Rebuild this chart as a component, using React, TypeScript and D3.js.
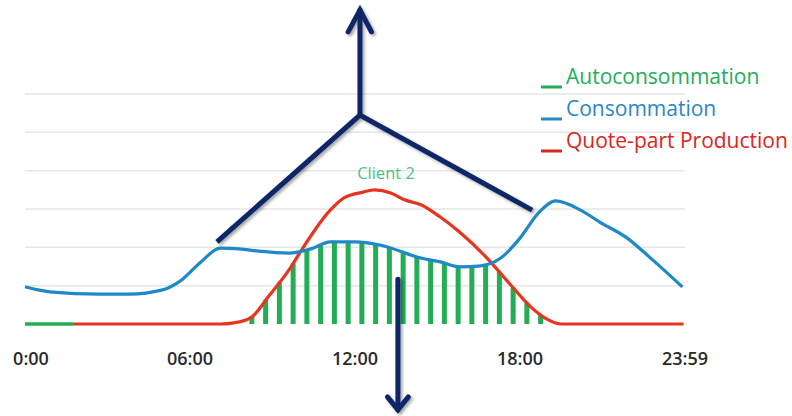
import React, { useEffect } from "react";
import * as d3 from "d3";

// ---- data (hours, value in grid units) ----
const consHours = [0, 0.9, 2.7, 3.8, 5.0, 5.6, 6.4, 7.1, 7.8, 8.5, 9.6, 10.4, 11.1, 12.0, 12.9, 14.4, 15.1, 15.8, 16.5, 17.3, 18.0, 18.7, 19.3, 20.2, 20.9, 21.9, 22.7, 23.9];
const consValues = [0.97, 0.84, 0.78, 0.78, 0.89, 1.1, 1.62, 1.98, 1.96, 1.9, 1.85, 1.96, 2.14, 2.14, 2.06, 1.72, 1.62, 1.49, 1.51, 1.72, 2.24, 2.92, 3.21, 2.97, 2.66, 2.24, 1.75, 0.97];

const prodHours = [1.75, 7.1, 7.6, 8.2, 8.9, 9.6, 10.1, 11.1, 11.6, 12.3, 12.7, 13.3, 13.8, 14.4, 15.1, 15.8, 16.8, 17.6, 18.4, 18.9, 19.5, 23.95];
const prodValues = [0, 0, 0.03, 0.16, 0.76, 1.41, 1.98, 2.97, 3.29, 3.44, 3.5, 3.42, 3.24, 3.11, 2.79, 2.4, 1.72, 1.07, 0.44, 0.16, 0, 0];

const autoHours = [0, 1.75];
const autoValues = [0, 0];

const barHours = [8.25, 8.75, 9.25, 9.75, 10.25, 10.75, 11.25, 11.75, 12.25, 12.75, 13.25, 13.75, 14.25, 14.75, 15.25, 15.75, 16.25, 16.75, 17.25, 17.75, 18.25, 18.75];

const gridValues = [1, 2, 3, 4, 5, 6];
const tickHours = [0, 6, 12, 18, 24];
const tickLabels = ["0:00", "06:00", "12:00", "18:00", "23:59"];

const legendLabels = ["Autoconsommation", "Consommation", "Quote-part Production"];
const legendColors = ["#22ad5c", "#2a87c6", "#d9261c"];

// annotation arrows (hours, value)
const upArrow = [[12.18, 5.45], [12.18, 8.19]];
const upHead = [[11.75, 7.62], [12.18, 8.19], [12.6, 7.62]];
const forkLeft = [[6.98, 2.14], [12.18, 5.45], [18.44, 2.97]];
const downArrow = [[13.56, 1.17], [13.56, -2.24]];
const downHead = [[13.18, -1.9], [13.56, -2.24], [13.94, -1.9]];

const W = 792;
const H = 416;
const BLUE = "#1f88c9";
const RED = "#e8341e";
const GREEN = "#23ad55";
const NAVY = "#0c2566";

function interp(xs: number[], ys: number[], x: number) {
  if (x <= xs[0]) return ys[0];
  for (let i = 1; i < xs.length; i++) {
    if (x <= xs[i]) {
      const t = (x - xs[i - 1]) / (xs[i] - xs[i - 1]);
      return ys[i - 1] + t * (ys[i] - ys[i - 1]);
    }
  }
  return ys[ys.length - 1];
}

export default function App() {
  useEffect(() => {
    document.body.style.margin = "0";
  }, []);

  const x = d3.scaleLinear().domain([0, 24]).range([25, 685]);
  const y = d3.scaleLinear().domain([0, 6]).range([324, 94]);

  const line = d3
    .line<[number, number]>()
    .x((d) => x(d[0]))
    .y((d) => y(d[1]))
    .curve(d3.curveMonotoneX);
  const straight = d3
    .line<number[]>()
    .x((d) => x(d[0]))
    .y((d) => y(d[1]));

  const cons = consHours.map((h, i) => [h, consValues[i]] as [number, number]);
  const prod = prodHours.map((h, i) => [h, prodValues[i]] as [number, number]);
  const auto = autoHours.map((h, i) => [h, autoValues[i]] as [number, number]);

  const font = "'Open Sans', 'Noto Sans', sans-serif";

  return (
    <svg width={W} height={H} style={{ display: "block", background: "#fff" }}>
      <defs>
        <filter id="shadow" x="-20%" y="-20%" width="140%" height="140%">
          <feDropShadow dx="2" dy="2" stdDeviation="1.5" floodColor="#000" floodOpacity="0.35" />
        </filter>
      </defs>
      {gridValues.map((g) => (
        <line key={g} x1={x(0)} x2={x(24)} y1={y(g)} y2={y(g)} stroke="#e6e6e6" strokeWidth={1.5} />
      ))}
      {barHours.map((h) => {
        const top = Math.min(interp(consHours, consValues, h), interp(prodHours, prodValues, h));
        return (
          <rect key={h} x={x(h) - 2.5} width={5} y={y(top)} height={y(0) - y(top)} fill={GREEN} />
        );
      })}
      <path d={line(prod) || ""} fill="none" stroke={RED} strokeWidth={3.2} />
      <path d={line(auto) || ""} fill="none" stroke={GREEN} strokeWidth={3.5} />
      <path d={line(cons) || ""} fill="none" stroke={BLUE} strokeWidth={3.2} />
      {tickHours.map((h, i) => (
        <text
          key={h}
          x={x(h) + (i === 0 ? 6 : 0)}
          y={365}
          textAnchor="middle"
          fontFamily={font}
          fontSize={18}
          fontWeight={600}
          fill="#2a2a2a"
        >
          {tickLabels[i]}
        </text>
      ))}
      <text x={386} y={179} textAnchor="middle" fontFamily={font} fontSize={16.5} fill="#4dbf85">
        Client 2
      </text>
      {legendLabels.map((l, i) => (
        <g key={l}>
          <line x1={541} x2={562} y1={87 + i * 32} y2={87 + i * 32} stroke={legendColors[i]} strokeWidth={3} />
          <text x={566} y={84 + i * 32} fontFamily={font} fontSize={21} fill={legendColors[i]}>
            {l}
          </text>
        </g>
      ))}
      <g filter="url(#shadow)" fill="none" stroke={NAVY} strokeWidth={5} strokeLinejoin="miter" strokeLinecap="round">
        <path d={straight(upArrow) || ""} />
        <path d={straight(upHead) || ""} />
        <path d={straight(forkLeft) || ""} strokeLinecap="butt" />
        <path d={straight(downArrow) || ""} />
        <path d={straight(downHead) || ""} />
      </g>
    </svg>
  );
}
